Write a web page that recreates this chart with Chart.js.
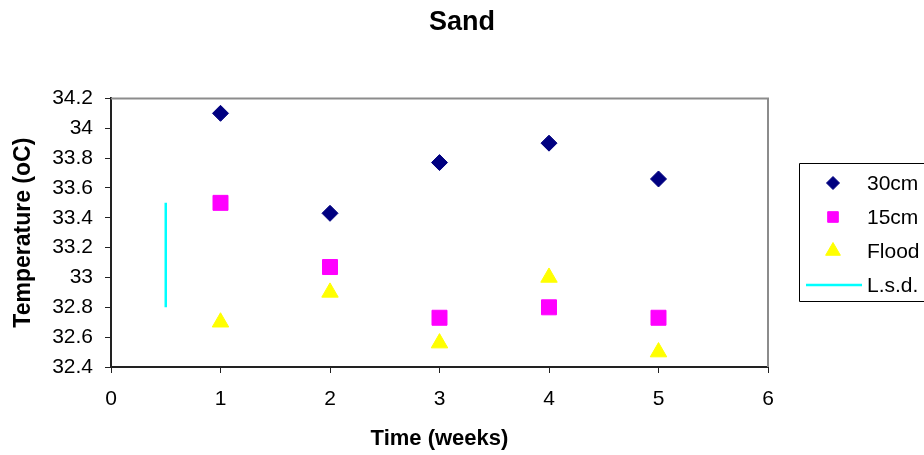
<!DOCTYPE html>
<html>
<head>
<meta charset="utf-8">
<script src="https://cdn.jsdelivr.net/npm/chart.js@4/dist/chart.umd.min.js"></script>
<style>
	html, body { margin: 0; padding: 0; background: #fff; }
	#wrap { width: 924px; height: 455px; position: relative; }
</style>
</head>
<body>
<div id="wrap"><canvas id="chart-sand"></canvas></div>
<script>
// Chart data
const WEEKS = [1, 2, 3, 4, 5];
const DEPTH_30CM = [34.1, 33.43, 33.77, 33.9, 33.66];
const DEPTH_15CM = [33.5, 33.07, 32.73, 32.8, 32.73];
const FLOOD = [32.7, 32.9, 32.56, 33.0, 32.5];
const LSD_X = [0.5, 0.5];
const LSD_Y = [33.5, 32.8];

const X_TICKS = [0, 1, 2, 3, 4, 5, 6];
const Y_TICKS = [32.4, 32.6, 32.8, 33, 33.2, 33.4, 33.6, 33.8, 34, 34.2];

const FONT = "'Liberation Sans', Arial, sans-serif";
const AXIS_COLOR = "#222";

const toPoints = (xs, ys) => xs.map((x, i) => ({ x: x, y: ys[i] }));

const SERIES = [
	{ label: "30cm", data: toPoints(WEEKS, DEPTH_30CM), color: "#000080", style: "rectRot", radius: 8, legendRadius: 6.5 },
	{ label: "15cm", data: toPoints(WEEKS, DEPTH_15CM), color: "#ff00ff", style: "rect", radius: 10.6, legendRadius: 7.5 },
	{ label: "Flood", data: toPoints(WEEKS, FLOOD), color: "#ffff00", style: "triangle", radius: 9.5, legendRadius: 8.5 },
];

const CHART_DATA = {
	datasets: [
		...SERIES.map((s) => ({
			label: s.label,
			data: s.data,
			showLine: false,
			pointStyle: s.style,
			pointRadius: s.radius,
			pointHoverRadius: s.radius,
			backgroundColor: s.color,
			borderColor: s.color,
			pointBorderWidth: 1,
		})),
		{
			label: "L.s.d.",
			type: "line",
			data: toPoints(LSD_X, LSD_Y),
			showLine: true,
			borderColor: "#00ffff",
			borderWidth: 2.5,
			pointRadius: 0,
			fill: false,
		},
	],
};

// Gray frame on top and right of the plot area
const plotFrame = {
	id: "plotFrame",
	beforeDatasetsDraw(chart) {
		const { ctx, chartArea } = chart;
		ctx.save();
		ctx.strokeStyle = "#8c8c8c";
		ctx.lineWidth = 2;
		ctx.beginPath();
		ctx.moveTo(chartArea.left, chartArea.top);
		ctx.lineTo(chartArea.right, chartArea.top);
		ctx.lineTo(chartArea.right, chartArea.bottom);
		ctx.stroke();
		ctx.restore();
	},
};

// Excel-like legend box on the right, partly cut by the canvas edge
const boxLegend = {
	id: "boxLegend",
	afterDraw(chart) {
		const { ctx } = chart;
		const left = 799.5, top = 163.5, bottom = 301.5;
		ctx.save();
		ctx.strokeStyle = "#000";
		ctx.lineWidth = 1;
		ctx.beginPath();
		ctx.moveTo(940, top);
		ctx.lineTo(left, top);
		ctx.lineTo(left, bottom);
		ctx.lineTo(940, bottom);
		ctx.stroke();

		const rowY = (i) => 183 + i * 34;
		ctx.font = "21px " + FONT;
		ctx.textBaseline = "middle";
		ctx.fillStyle = "#000";
		SERIES.forEach((s, i) => {
			ctx.fillStyle = s.color;
			ctx.strokeStyle = s.color;
			Chart.helpers.drawPoint(ctx, { pointStyle: s.style, radius: s.legendRadius, rotation: 0, borderWidth: 1 }, 833, rowY(i));
			ctx.fillStyle = "#000";
			ctx.fillText(s.label, 867, rowY(i) + 1);
		});
		const lsd = chart.data.datasets[3];
		ctx.strokeStyle = lsd.borderColor;
		ctx.lineWidth = 2.5;
		ctx.beginPath();
		ctx.moveTo(806, rowY(3));
		ctx.lineTo(862, rowY(3));
		ctx.stroke();
		ctx.fillStyle = "#000";
		ctx.fillText(lsd.label, 867, rowY(3) + 1);
		ctx.restore();
	},
};

const axisCommon = (ticks) => ({
	type: "linear",
	min: ticks[0],
	max: ticks[ticks.length - 1],
	afterBuildTicks: (scale) => {
		scale.ticks = ticks.map((v) => ({ value: v }));
	},
	border: { display: true, color: AXIS_COLOR, width: 2 },
	grid: { drawOnChartArea: false, drawTicks: true, tickLength: 6, color: AXIS_COLOR, lineWidth: 1 },
});

const CHART_CONFIG = {
	type: "scatter",
	data: CHART_DATA,
	plugins: [plotFrame, boxLegend],
	options: {
		responsive: true,
		maintainAspectRatio: false,
		animation: false,
		layout: { padding: 0 },
		scales: {
			x: {
				...axisCommon(X_TICKS),
				ticks: {
					color: "#000",
					font: { family: FONT, size: 21 },
					padding: 14,
					maxRotation: 0,
					callback: (v) => String(v),
				},
				title: {
					display: true,
					text: "Time (weeks)",
					color: "#000",
					font: { family: FONT, size: 22, weight: "bold" },
					padding: { top: 0, bottom: 3 },
				},
				afterFit: (scale) => { scale.height = 88; },
			},
			y: {
				...axisCommon(Y_TICKS),
				ticks: {
					color: "#000",
					font: { family: FONT, size: 21 },
					padding: 12,
					callback: (v) => String(Math.round(v * 10) / 10),
				},
				title: {
					display: true,
					text: "Temperature (oC)",
					color: "#000",
					font: { family: FONT, size: 23, weight: "bold" },
					padding: { top: 10, bottom: 0 },
				},
				afterFit: (scale) => { scale.width = 111; },
			},
			// empty right-hand strip that holds the legend box
			legendSpace: {
				type: "linear",
				position: "right",
				display: true,
				ticks: { display: false },
				grid: { display: false, drawTicks: false },
				border: { display: false },
				afterFit: (scale) => { scale.width = 156; },
			},
		},
		plugins: {
			legend: { display: false },
			tooltip: { enabled: false },
			title: {
				display: true,
				text: "Sand",
				color: "#000",
				font: { family: FONT, size: 27, weight: "bold" },
				padding: { top: 6, bottom: 60 },
			},
		},
	},
};

new Chart(document.getElementById("chart-sand"), CHART_CONFIG);
</script>
</body>
</html>
